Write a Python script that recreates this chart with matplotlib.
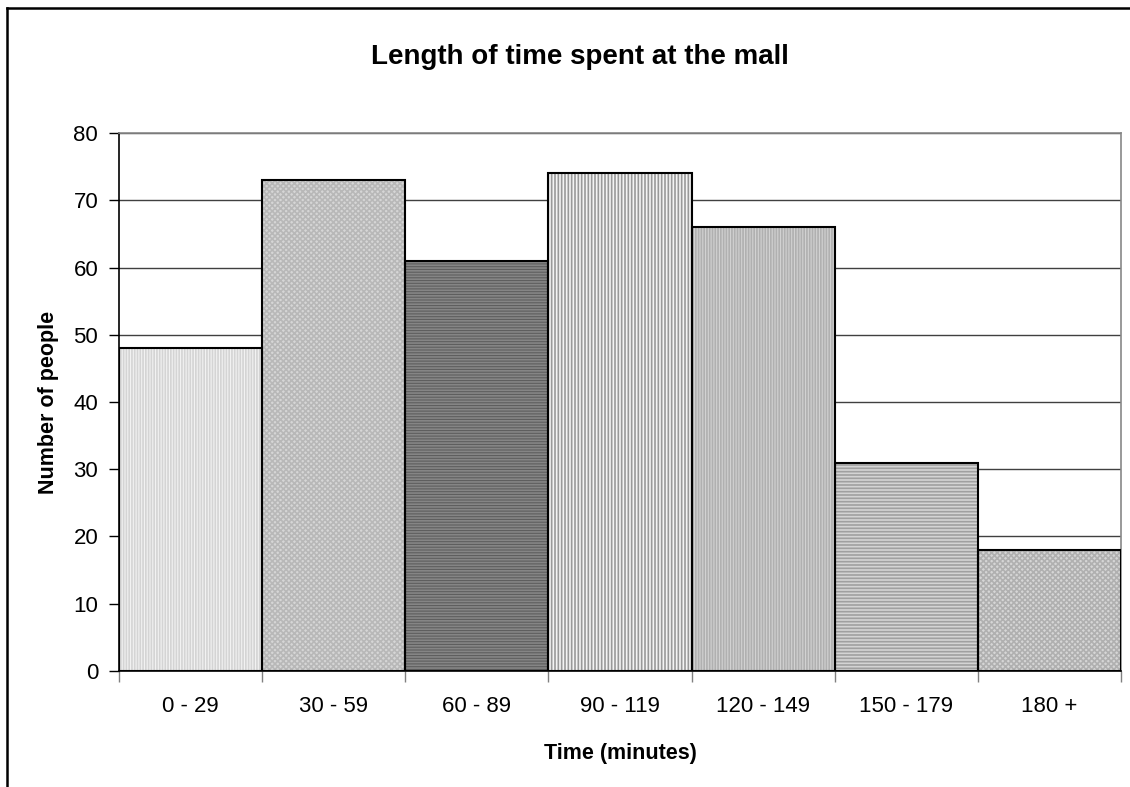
import numpy as np
import matplotlib.pyplot as plt
from matplotlib.lines import Line2D

plt.rcParams['font.family'] = ['Liberation Sans', 'DejaVu Sans']

# data
categories = ['0 - 29', '30 - 59', '60 - 89', '90 - 119', '120 - 149', '150 - 179', '180 +']
counts = [48, 73, 61, 74, 66, 31, 18]

# fill patterns per bar: base colour, hatch colour, hatch
base_colors = ['#f2f2f2', '#d6d6d6', '#5e5e5e', '#f4f4f4', '#d2d2d2', '#d4d4d4', '#d6d6d6']
hatch_colors = ['#d4d4d4', '#b8b8b8', '#858585', '#999999', '#b0b0b0', '#a0a0a0', '#b0b0b0']
hatches = ['||||||', 'xxxxxx', '------', '|||||', '||||||', '-----', 'xxxxxx']

fig = plt.figure(figsize=(11.3, 7.87), dpi=100)
ax = fig.add_axes([0.1053, 0.1474, 0.992 - 0.1053, 0.831 - 0.1474])

x = np.arange(len(categories))
plt.rcParams['hatch.linewidth'] = 1.2
for i in range(len(categories)):
    ax.bar(x[i], counts[i], width=1.0, color=base_colors[i], edgecolor=hatch_colors[i],
           hatch=hatches[i], linewidth=0, zorder=2)
ax.bar(x, counts, width=1.0, fill=False, edgecolor='black', linewidth=1.5, zorder=3)

ax.set_xlim(-0.5, len(categories) - 0.5)
ax.set_ylim(0, 80)
ax.set_yticks(range(0, 81, 10))
ax.yaxis.grid(True, color='#404040', linewidth=1)
ax.set_axisbelow(True)

# ticks on bin boundaries, labels centred on bars
ax.set_xticks(np.arange(-0.5, len(categories), 1.0))
ax.set_xticklabels([])
ax.set_xticks(x, minor=True)
ax.set_xticklabels(categories, minor=True)
ax.tick_params(axis='x', which='major', direction='out', length=8, color='#808080', width=1)
ax.tick_params(axis='x', which='minor', length=0, pad=18, labelsize=16)
ax.tick_params(axis='y', direction='out', length=7, width=1, labelsize=16, pad=8)

for s in ['top', 'right']:
    ax.spines[s].set_color('#888888')
    ax.spines[s].set_linewidth(1.2)
for s in ['left', 'bottom']:
    ax.spines[s].set_color('black')
    ax.spines[s].set_linewidth(1.2)

ax.set_xlabel('Time (minutes)', fontsize=15.5, fontweight='bold', labelpad=19)
ax.set_ylabel('Number of people', fontsize=15.5, fontweight='bold', labelpad=10)
fig.text(0.513, 0.928, 'Length of time spent at the mall', ha='center', va='center',
         fontsize=20, fontweight='bold')

# chart area border (cut off at right and bottom)
fig.add_artist(Line2D([7 / 1130, 1.0], [1 - 8 / 787, 1 - 8 / 787], color='black', linewidth=1.8))
fig.add_artist(Line2D([7 / 1130, 7 / 1130], [1 - 8 / 787, 0.0], color='black', linewidth=1.8))

fig.savefig('out.png', dpi=100)
